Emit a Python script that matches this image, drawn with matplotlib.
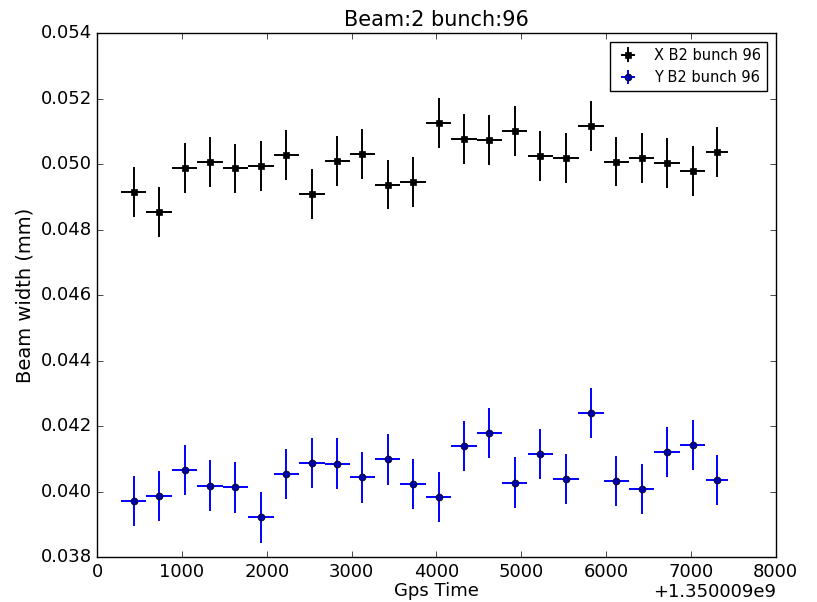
import numpy as np
import matplotlib
matplotlib.use('Agg')
import matplotlib.pyplot as plt
from matplotlib.ticker import ScalarFormatter

# ---- data ----
GPS_OFFSET = 1350009000
gps_rel = [430, 730, 1030, 1330, 1630, 1930, 2230, 2530, 2830, 3125, 3425, 3725,
           4025, 4325, 4625, 4920, 5225, 5525, 5820, 6120, 6420, 6720, 7020, 7305]
gps_half = [150] * 23 + [130]

x_width = [0.04916, 0.04854, 0.04989, 0.05007, 0.04987, 0.04994, 0.05027, 0.04910,
           0.05010, 0.05030, 0.04938, 0.04945, 0.05125, 0.05076, 0.05074, 0.05101,
           0.05024, 0.05019, 0.05117, 0.05008, 0.05019, 0.05004, 0.04980, 0.05037]
y_width = [0.03972, 0.03987, 0.04067, 0.04019, 0.04014, 0.03922, 0.04055, 0.04089,
           0.04086, 0.04044, 0.04099, 0.04024, 0.03985, 0.04140, 0.04180, 0.04028,
           0.04116, 0.04039, 0.04241, 0.04034, 0.04009, 0.04122, 0.04143, 0.04037]
x_err = 0.00076
y_err = 0.00077

plt.style.use('classic')
plt.rcParams['xtick.labelsize'] = 13
plt.rcParams['ytick.labelsize'] = 13
fig = plt.figure(figsize=(8.17, 6.02), dpi=100)
ax = fig.add_axes([0.119, 0.074, 0.8305, 0.871])

gps = np.array(gps_rel, dtype=float) + GPS_OFFSET
ax.errorbar(gps, x_width, xerr=gps_half, yerr=x_err, fmt='s', color='black',
            ecolor='black', markersize=5, capsize=0, elinewidth=1.4,
            label='X B2 bunch 96')
ax.errorbar(gps, y_width, xerr=gps_half, yerr=y_err, fmt='o', color='blue',
            ecolor='blue', mfc='#0000aa', mec='black', markersize=5, capsize=0,
            elinewidth=1.4, label='Y B2 bunch 96')

ax.set_xlim(GPS_OFFSET, GPS_OFFSET + 8000)
ax.set_ylim(0.038, 0.054)
ax.set_yticks(np.arange(0.038, 0.0541, 0.002))
ax.xaxis.set_major_formatter(ScalarFormatter(useOffset=GPS_OFFSET))
ax.xaxis.OFFSETTEXTPAD = 1.5
ax.xaxis.get_offset_text().set_fontsize(13)

ax.set_title('Beam:2 bunch:96', fontsize=15, pad=5)
ax.set_xlabel('Gps Time', fontsize=13, labelpad=1)
ax.set_ylabel('Beam width (mm)', fontsize=14, labelpad=4)

ax.legend(loc='upper right', numpoints=1, fontsize=10.5, handlelength=1.6,
          handletextpad=1.0, borderpad=0.4, labelspacing=0.5, borderaxespad=0.6)

fig.savefig('out.png', dpi=100)
